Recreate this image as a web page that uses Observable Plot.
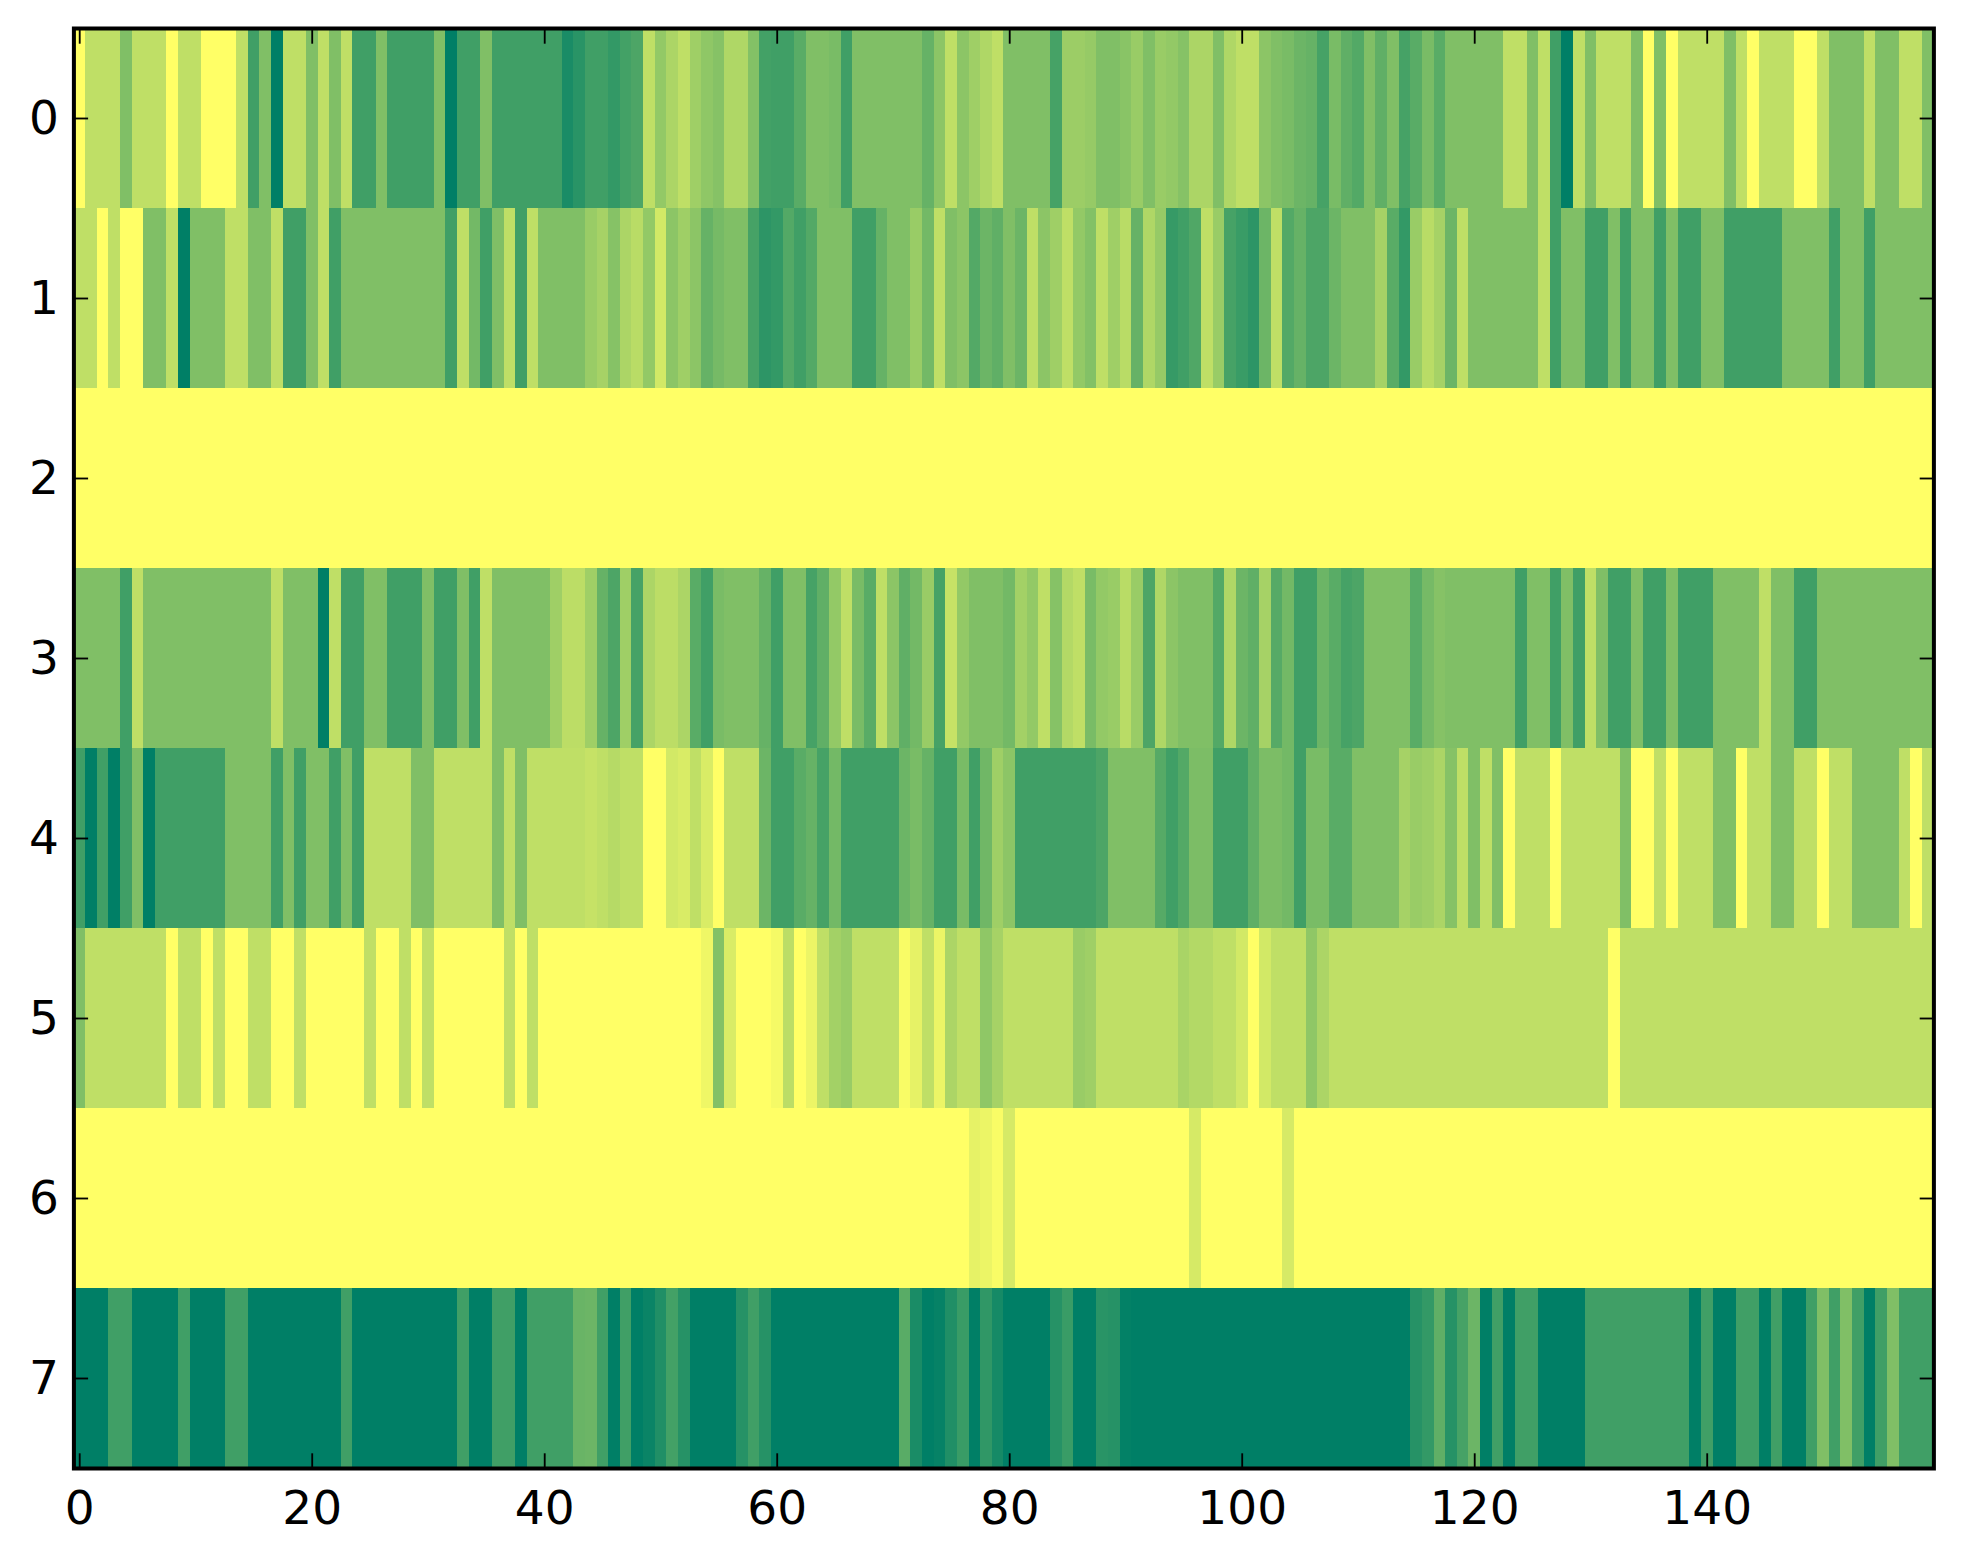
<!DOCTYPE html>
<html>
<head>
<meta charset="utf-8">
<script src="https://cdn.jsdelivr.net/npm/d3@7"></script>
<script src="https://cdn.jsdelivr.net/npm/@observablehq/plot@0.6"></script>
<style>
html,body{margin:0;padding:0;background:#fff;overflow:hidden}
svg{display:block}
</style>
</head>
<body>
<div id="chart"></div>
<script>
const xTicks = [0,20,40,60,80,100,120,140];
const yTicks = [0,1,2,3,4,5,6,7];

const row0 = [
4,3,3,3,2,3,3,3,4,3,
3,4,4,4,3,1,2,0,3,3,
2,3,2,3,1,1,2,1,1,1,
1,2,0,1,1,2,1,1,1,1,
1,1,.4,.65,1,1,.8,1.05,1.2,3,
2.3,2.7,3,2.5,2.25,2.1,2.75,2.75,2.05,1.05,
1,1,1.4,2,2,1.9,1,2,2,2,
2,2,2,1.6,2.2,3,2.2,2.5,2.75,3,
2,2,2,2,1.1,2.45,2.45,2.35,2,2,
2.15,2.4,2,2.4,2.3,2.1,2.7,2.7,2,2.75,
3,3,2.2,2,1.9,1.7,1.6,1.1,1.9,1.5,
1.3,2,1.5,2,1.1,1.4,1.9,1.4,2,2,
2,2,2,3,3,2,3,1,0,3,
2,3,3,3,2,4,2,4,3,3,
3,3,2,3,4,3,3,3,4,4,
3,2,2,2,3,2,2,3,3,2];

const row1 = [
3,3,4,3,4,4,2,2,3,0,
2,2,2,3,3,2,2,3,1,1,
2,3,1,2,2,2,2,2,2,2,
2,2,1,3,1.8,1,2,3,1,3,
2,2,2,2,2.4,2.6,2.1,2.7,2.9,2.3,
3.3,2.2,2.5,2.2,1.6,1.85,2,2,1.1,.7,
.8,1.3,1,1.3,2,2,2,1,1,1.6,
2,2,2.4,1.8,3,2,2.2,1.3,1.7,1.5,
2,1.7,3,2.2,2.5,3,2.3,2.05,3,2.5,
2.9,1.6,2.75,2.35,.85,1,1.25,3,2.4,1.1,
.9,.7,1.7,3,1.3,1.6,1.2,1.2,1.7,2,
2,2,2.6,1.4,.8,2.4,2.9,2.6,1.7,3,
2,2,2,2,2,2,3,1,2,2,
1,1,2,1,2,2,1,2,1,1,
2,2,1,1,1,1,1,2,2,2,
2,1,2,2,1,2,2,2,2,2];

const row2 = [
4,4,4,4,4,4,4,4,4,4,
4,4,4,4,4,4,4,4,4,4,
4,4,4,4,4,4,4,4,4,4,
4,4,4,4,4,4,4,4,4,4,
4,4,4,4,4,4,4,4,4,4,
4,4,4,4,4,4,4,4,4,4,
4,4,4,4,4,4,4,4,4,4,
4,4,4,4,4,4,4,4,4,4,
4,4,4,4,4,4,4,4,4,4,
4,4,4,4,4,4,4,4,4,4,
4,4,4,4,4,4,4,4,4,4,
4,4,4,4,4,4,4,4,4,4,
4,4,4,4,4,4,4,4,4,4,
4,4,4,4,4,4,4,4,4,4,
4,4,4,4,4,4,4,4,4,4,
4,4,4,4,4,4,4,4,4,4];

const row3 = [
2,2,2,2,1,3,2,2,2,2,
2,2,2,2,2,2,2,3,2,2,
2,0,3,1,1,2,2,1,1,1,
2,1,1,2,1,3,2,2,2,2,
2,2.5,2.95,2.95,2.5,1.6,1.2,2.5,1.1,2.7,
2.95,2.95,2.7,1.4,1,1.9,2,2,2,1.6,
1,2,2,1.1,1.5,2.3,3,1.9,1.4,3,
2.2,1.5,1.8,2.4,1.1,3.1,2.3,2,2,2,
1.8,2.55,2.3,3,2.1,2.8,3,1.9,2.3,2.4,
2.9,2.4,1.2,2.75,2.2,2,2,2,1.3,2.75,
1.7,1.5,2.6,1.35,1.8,1,1,1.7,1.4,1.1,
1.2,2,2,2,2,1.4,1.85,2.1,2,2,
2,2,2,2,1,2,2,1,2,1,
3,2,1,1,2,1,1,2,1,1,
1,2,2,2,2,3,2,2,1,1,
2,2,2,2,2,2,2,2,2,2];

const row4 = [
1,0,1,0,1,2,0,1,1,1,
1,1,1,2,2,2,2,1,2,1,
2,2,1,2,1,3,3,3,3,2,
2,3,3,3,3,3,2,3,2,3,
3,3,3,3,3.1,3,2.85,3,3,4,
4,3.3,3.4,3,3.4,4,3,3,3,1.7,
1,1,1.4,1.6,1.1,1.8,1,1,1,1,
1,1.7,1.9,1.6,1,1,1.9,1,1.75,2.5,
2.2,1,1,1,1,1,1,1,1.2,2,
2,2,2,1.35,1,1.3,1.95,1.95,1,1,
1,1.5,1.95,1.95,1.8,1,1.9,1.9,1.4,1.4,
2,2,2,2,2.6,2.4,2.5,2.7,2.1,3,
2,3,2,4,3,3,3,4,3,3,
3,3,3,2,4,4,3,4,3,3,
3,2,2,4,3,3,2,2,3,3,
4,3,3,2,2,2,2,3,4,3];

const row5 = [
2,3,3,3,3,3,3,3,4,3,
3,4,3,4,4,3,3,4,4,3,
4,4,4,4,4,3,4,4,3,4,
3,4,4,4,4,4,4,3,4,3,
4,4,4,4,4,4,4,4,4,4,
4,4,4,4,3.75,2.05,3.4,4,4,4,
3.85,2.95,4,3.7,3,2.55,2.4,3,3,3,
3,3.9,3.6,3,3.7,2.7,3,3,2.25,2.6,
3,3,3,3,3,3,2.4,2.5,3,3,
3,3,3,3,3,2.65,2.8,2.8,3,3,
3.3,4,3.3,3,3,3,2.25,2.7,3,3,
3,3,3,3,3,3,3,3,3,3,
3,3,3,3,3,3,3,3,3,3,
3,3,4,3,3,3,3,3,3,3,
3,3,3,3,3,3,3,3,3,3,
3,3,3,3,3,3,3,3,3,3];

const row6 = [
4,4,4,4,4,4,4,4,4,4,
4,4,4,4,4,4,4,4,4,4,
4,4,4,4,4,4,4,4,4,4,
4,4,4,4,4,4,4,4,4,4,
4,4,4,4,4,4,4,4,4,4,
4,4,4,4,4,4,4,4,4,4,
4,4,4,4,4,4,4,4,4,4,
4,4,4,4,4,4,4,3.6,3.7,3.9,
3.35,4,4,4,4,4,4,4,4,4,
4,4,4,4,4,4,3.35,4,4,4,
4,4,4,4,3.35,4,4,4,4,4,
4,4,4,4,4,4,4,4,4,4,
4,4,4,4,4,4,4,4,4,4,
4,4,4,4,4,4,4,4,4,4,
4,4,4,4,4,4,4,4,4,4,
4,4,4,4,4,4,4,4,4,4];

const row7 = [
0,0,0,1,1,0,0,0,0,1,
0,0,0,1,1,0,0,0,0,0,
0,0,0,1,0,0,0,0,0,0,
0,0,0,1,0,0,1,1,0,1,
1,1,1,1.65,1.7,1,0,1,0,.15,
.5,1.05,.6,0,0,0,0,.6,1,.6,
0,0,0,0,0,0,0,0,0,0,
0,1.4,.4,0,.1,.5,.9,0,.75,.35,
0,0,0,0,.6,.9,0,0,.65,.6,
.05,0,0,0,0,0,0,0,0,0,
0,0,0,0,0,0,0,0,0,0,
0,0,0,0,0,.6,.8,1.5,.6,1.1,
1.7,0,1,0,1,1,0,0,0,0,
1,1,1,1,1,1,1,1,1,0,
1,0,0,1,1,0,1,0,0,1,
2,1,2,1,0,1,2,1,1,1];

const rows = [row0,row1,row2,row3,row4,row5,row6,row7];
const cells = rows.flatMap((r, y) => r.map((v, x) => ({x, y, v})));

const tickLen = 14.7;

const chart = Plot.plot({
  width: 1963,
  height: 1564,
  marginLeft: 73.4,
  marginRight: 29.6,
  marginTop: 28,
  marginBottom: 96,
  style: {background: "#fff", color: "black"},
  x: {domain: [-0.5, 159.5], label: null},
  y: {domain: [7.5, -0.5], label: null},
  color: {type: "linear", domain: [0, 4], range: ["#007f66", "#ffff66"]},
  marks: [
    Plot.rect(cells, {
      x1: d => d.x - 0.5,
      x2: d => d.x + 0.5,
      y1: d => d.y - 0.5,
      y2: d => d.y + 0.5,
      fill: "v",
      shapeRendering: "crispEdges"
    }),
    Plot.axisX(xTicks, {anchor: "bottom", tickSize: -tickLen, tickPadding: tickLen + 21.7, tickFormat: "d", fontSize: 47, fontFamily: "DejaVu Sans", strokeWidth: 1.84, fill: "black", stroke: "black", textStroke: "none", label: null}),
    Plot.axisX(xTicks, {anchor: "top", tickSize: -tickLen, fill: "none", stroke: "black", strokeWidth: 1.84, label: null}),
    Plot.axisY(yTicks, {anchor: "left", tickSize: -tickLen, tickPadding: tickLen + 15, tickFormat: "d", fontSize: 47, fontFamily: "DejaVu Sans", strokeWidth: 1.84, fill: "black", stroke: "black", textStroke: "none", label: null}),
    Plot.axisY(yTicks, {anchor: "right", tickSize: -tickLen, fill: "none", stroke: "black", strokeWidth: 1.84, label: null}),
    Plot.frame({stroke: "black", strokeWidth: 4})
  ]
});
document.getElementById("chart").append(chart);
</script>
</body>
</html>
